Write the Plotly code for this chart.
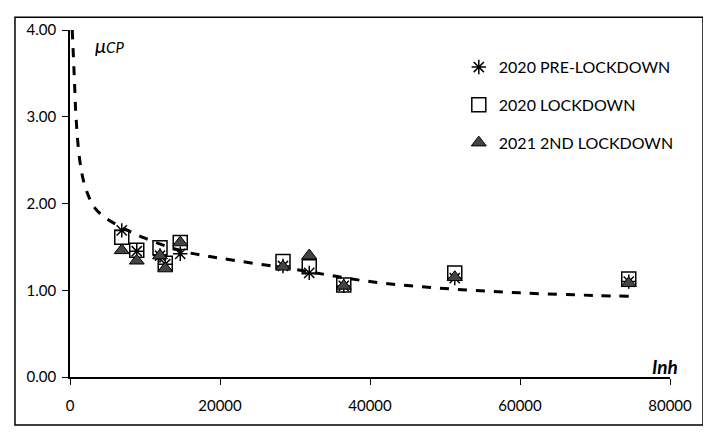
import plotly.graph_objects as go

# Inhabitants (x) for each sampling site
inh = [6900, 8900, 12000, 12700, 14700, 28400, 31900, 36500, 51300, 74500]

pre_lockdown = [1.69, 1.45, 1.40, 1.30, 1.42, 1.28, 1.20, 1.05, 1.14, 1.10]
lockdown = [1.61, 1.46, 1.49, 1.31, 1.55, 1.33, 1.27, 1.06, 1.20, 1.13]
second_lockdown = [1.46, 1.34, 1.40, 1.25, 1.55, 1.27, 1.40, 1.05, 1.15, 1.08]

# Trend line points
trend_x = [300, 600, 800, 1300, 2000, 3300, 5000, 7000, 10000, 15000, 20000,
           30000, 40000, 50000, 60000, 70000, 74500]
trend_y = [4.0, 3.4, 3.0, 2.5, 2.2, 1.95, 1.82, 1.72, 1.6, 1.45, 1.37,
           1.24, 1.1, 1.02, 0.97, 0.94, 0.93]

x_ticks = [0, 20000, 40000, 60000, 80000]
y_ticks = [0, 1, 2, 3, 4]
y_tick_labels = ["0.00", "1.00", "2.00", "3.00", "4.00"]

FONT = "Lato, 'Open Sans', sans-serif"

fig = go.Figure()
fig.add_trace(go.Scatter(x=trend_x, y=trend_y, mode="lines",
                         line=dict(color="black", width=3, dash="dash", shape="spline"),
                         showlegend=False, hoverinfo="skip"))
fig.add_trace(go.Scatter(x=inh, y=pre_lockdown, mode="markers", name="2020 PRE-LOCKDOWN",
                         legendgroup="a",
                         marker=dict(symbol="asterisk-open", size=12, color="black",
                                     line=dict(color="black", width=1.5))))
fig.add_trace(go.Scatter(x=inh, y=lockdown, mode="markers", name="2020 LOCKDOWN",
                         legendgroup="b",
                         marker=dict(symbol="square-open", size=14, color="black",
                                     line=dict(color="black", width=1.5))))
fig.add_trace(go.Scatter(x=inh, y=second_lockdown, mode="markers", name="2021 2ND LOCKDOWN",
                         legendgroup="c",
                         marker=dict(symbol="triangle-up", size=13, color="#444444",
                                     line=dict(color="black", width=1))))

fig.update_layout(
    width=711, height=442,
    margin=dict(l=62, r=49, t=22, b=73, autoexpand=False),
    paper_bgcolor="white", plot_bgcolor="white",
    font=dict(family=FONT, size=15, color="black"),
    showlegend=True,
    legend=dict(x=0.648, y=0.942, xanchor="left", yanchor="top",
                font=dict(size=16, family=FONT), tracegroupgap=14,
                bgcolor="rgba(0,0,0,0)", itemwidth=30),
    xaxis=dict(range=[0, 80000], tickvals=x_ticks, ticktext=[str(v) for v in x_ticks],
               showgrid=False, zeroline=False, showline=True, linecolor="black",
               linewidth=1.5, ticks="outside", ticklen=6, tickcolor="black",
               ticklabelstandoff=8, automargin=False),
    yaxis=dict(range=[0, 4], tickvals=y_ticks, ticktext=y_tick_labels,
               showgrid=False, zeroline=False, showline=True, linecolor="black",
               linewidth=1.5, ticks="outside", ticklen=6, tickcolor="black",
               ticklabelstandoff=3, automargin=False),
    shapes=[dict(type="rect", xref="paper", yref="paper", x0=-0.0917, x1=1.055,
                 y0=-0.138, y1=1.037, line=dict(color="black", width=1.5))],
    annotations=[
        dict(x=0.038, y=0.957, xref="paper", yref="paper", showarrow=False,
             xanchor="left", yanchor="middle",
             text="<i>μ<span style='font-size:15px'>CP</span></i>",
             font=dict(size=20, family=FONT)),
        dict(x=1.017, y=-0.008, xref="paper", yref="paper", showarrow=False,
             xanchor="right", yanchor="bottom", text="<b><i>Inh</i></b>",
             font=dict(size=19, family=FONT)),
    ],
)

fig.write_html("out.html")
